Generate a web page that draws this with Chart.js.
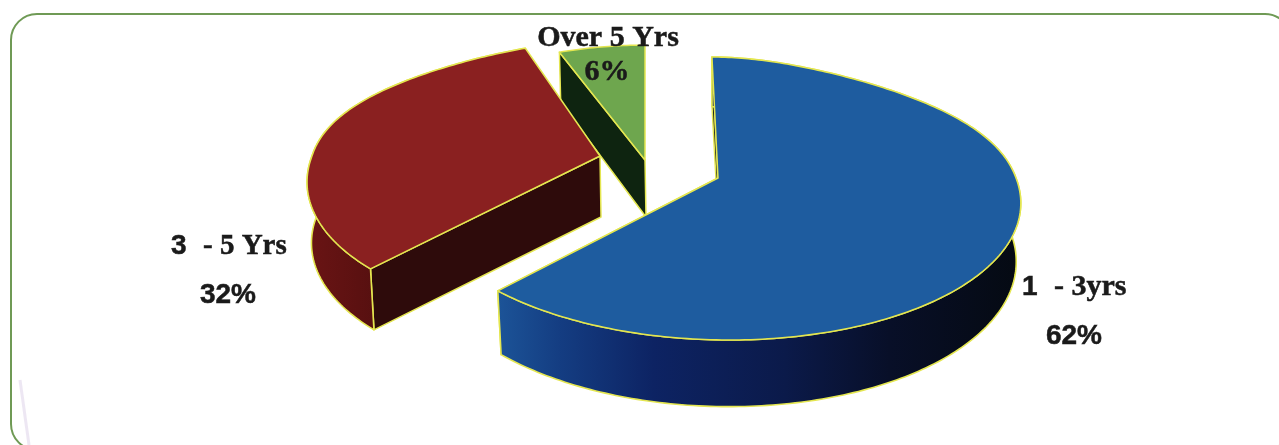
<!DOCTYPE html>
<html><head><meta charset="utf-8">
<style>html,body{margin:0;padding:0;background:#fff;overflow:hidden}canvas{display:block}</style>
<script src="https://cdn.jsdelivr.net/npm/chart.js@4/dist/chart.umd.min.js"></script>
</head><body><canvas id="c" width="1279" height="445"></canvas>
<script>
const categories = ["1 - 3yrs", "3 - 5 Yrs", "Over 5 Yrs"];
const shares = [62, 32, 6];
const topColors = ["#1e5c9f", "#8a2020", "#6ea64e"];

// Presentation of the exploded, tilted disc (one entry per slice)
const apex = [[718,178],[600,156],[645,160]];
const radiusX = [298, 288, 300];
const backY = [1, 0.95, 0.95];
const narrowing = [0.25, 0.25, 0.15];
const shearFront = [0.07, -0.08, 0];
const shearBack = [0.05, 0, 0];
const depthPow = [1, 0, 1];
const depthBase = [57, 61, 57];
const RY = 138.5, K = 0.145, LINE = "#e4e650";

function project(i, t, extrude) {
  const c = apex[i], u = Math.sin(t), v = -Math.cos(t), w = 1 - K * v;
  const narrow = 1 - narrowing[i] * Math.pow(Math.max(0, -v), 3);
  let x = radiusX[i] * u / w * narrow, y = RY * v / w;
  if (y < 0) y *= backY[i];
  x += y * (y > 0 ? shearFront[i] : shearBack[i]);
  if (extrude) { x *= 0.985; y += depthBase[i] / Math.pow(w, depthPow[i]); }
  return [c[0] + x, c[1] + y];
}
function arcPts(i, a, b, ex) {
  const n = Math.max(8, Math.ceil((b - a) * 60)), p = [];
  for (let k = 0; k <= n; k++) p.push(project(i, a + (b - a) * k / n, ex));
  return p;
}
function poly(ctx, pts, fill, lw) {
  ctx.beginPath();
  pts.forEach((p, i) => i ? ctx.lineTo(p[0], p[1]) : ctx.moveTo(p[0], p[1]));
  ctx.closePath();
  ctx.fillStyle = fill; ctx.fill();
  ctx.lineJoin = "round"; ctx.strokeStyle = LINE; ctx.lineWidth = lw || 1.5; ctx.stroke();
}
function grad(ctx, x0, x1, stops) {
  const g = ctx.createLinearGradient(x0, 0, x1, 0);
  stops.forEach(s => g.addColorStop(s[0], s[1]));
  return g;
}

const disc3d = {
  id: "disc3d",
  beforeDraw(chart) {
    const ctx = chart.ctx;
    ctx.save();
    ctx.strokeStyle = "#6f9a55"; ctx.lineWidth = 2;
    ctx.beginPath(); ctx.roundRect(11, 14, 1280, 436, 26); ctx.stroke();
    ctx.strokeStyle = "rgba(225,215,235,0.6)"; ctx.lineWidth = 3;
    ctx.beginPath(); ctx.moveTo(20, 380); ctx.lineTo(29, 445); ctx.stroke();
    ctx.restore();
  },
  beforeDatasetDraw(chart) {
    const ctx = chart.ctx, arcs = chart.getDatasetMeta(0).data;
    const style = [
      { rim: grad(ctx, 497, 1020, [[0,"#1c5498"],[0.12,"#143d82"],[0.3,"#0d2363"],[0.55,"#0b1a4a"],[0.75,"#080f28"],[1,"#050a12"]]), cut: "#06101c", endWall: true, rimWall: true },
      { rim: grad(ctx, 308, 375, [[0,"#6a1414"],[1,"#571010"]]), cut: "#2e0b0b", endWall: false, rimWall: true },
      { rim: "#0e2410", cut: "#0e2410", endWall: false, rimWall: false }
    ];
    ctx.save();
    [2, 1, 0].forEach(i => {
      const e = arcs[i], c = apex[i], s = style[i];
      const a = e.startAngle + Math.PI / 2, b = e.endAngle + Math.PI / 2;
      const top = arcPts(i, a, b, false), bot = arcPts(i, a, b, true);
      const dn = [c[0] + 1, c[1] + depthBase[i]];
      if (s.endWall) poly(ctx, [c, top[top.length-1], bot[bot.length-1], dn], s.cut, 1.5);
      poly(ctx, [c, top[0], bot[0], dn], s.cut, 1.5);
      if (s.rimWall) poly(ctx, top.concat(bot.slice().reverse()), s.rim, 1.6);
      poly(ctx, [c].concat(top), topColors[i], 1.5);
    });
    ctx.restore();
    return false;
  },
  afterDraw(chart) {
    const ctx = chart.ctx;
    const serif = 'bold 30px "Liberation Serif"', sans = 'bold 28px "Liberation Sans"';
    const t = (s, x, y, f, al) => {
      ctx.font = f; ctx.textAlign = al || "left";
      ctx.lineWidth = 0.5; ctx.strokeStyle = "#1a1a1a";
      ctx.strokeText(s, x, y); ctx.fillText(s, x, y);
    };
    ctx.save();
    ctx.fillStyle = "#1a1a1a"; ctx.textBaseline = "alphabetic";
    t(categories[2], 608, 46, serif, "center");
    t(shares[2] + "%", 607, 80, serif, "center");
    t("3", 171, 254, sans);
    t("- 5 Yrs", 203, 254, 'bold 29px "Liberation Serif"');
    t(shares[1] + "%", 228, 303, sans, "center");
    t("1", 1022, 295, sans);
    t("- 3yrs", 1054, 295, serif);
    t(shares[0] + "%", 1074, 344, sans, "center");
    ctx.restore();
  }
};

new Chart(document.getElementById("c"), {
  type: "pie",
  data: { labels: categories, datasets: [{ data: shares, backgroundColor: topColors, borderWidth: 0 }] },
  options: {
    responsive: false, animation: false,
    plugins: { legend: { display: false }, tooltip: { enabled: false } }
  },
  plugins: [disc3d]
});
</script></body></html>
